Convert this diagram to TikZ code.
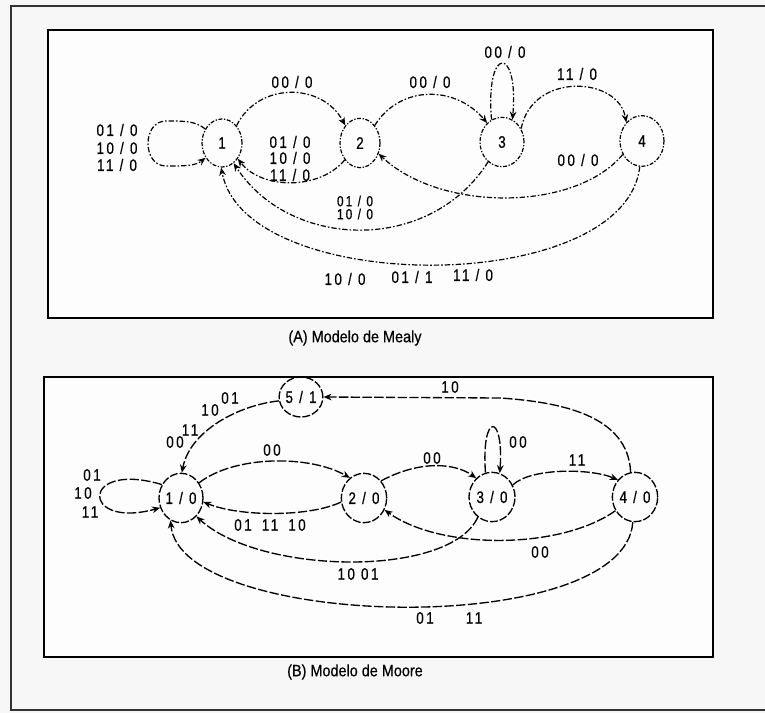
\documentclass[tikz,border=0pt]{standalone}
\usepackage{fontspec}
\setmainfont{Liberation Sans}
\newfontfamily\lblfont[FakeStretch=0.8,LetterSpace=15,FakeBold=0.6]{Liberation Sans}
\newfontfamily\capfont[FakeStretch=0.88,FakeBold=0.4]{Liberation Sans}
\usetikzlibrary{shapes.geometric,arrows.meta}
\begin{document}
\begin{tikzpicture}[x=0.75pt,y=-0.75pt,
  lab/.style={font=\lblfont\fontsize{12.5}{14}\selectfont,inner sep=0pt},
  smalllab/.style={font=\lblfont\fontsize{11}{12}\selectfont,inner sep=0pt},
  captext/.style={font=\capfont\fontsize{12.3}{14}\selectfont,inner sep=0pt},
  mstate/.style={ellipse,draw,line width=0.9pt,dash pattern=on 3pt off 1.2pt on 1pt off 1.2pt,inner sep=0pt,font=\lblfont\fontsize{12.5}{14}\selectfont},
  bstate/.style={ellipse,draw,line width=1pt,dash pattern=on 6pt off 1.5pt,inner sep=0pt,font=\lblfont\fontsize{12.5}{14}\selectfont},
  medge/.style={line width=0.9pt,dash pattern=on 4pt off 1.5pt on 1.2pt off 1.5pt,-{Stealth[length=6pt,width=5pt]}},
  bedge/.style={line width=1pt,dash pattern=on 7pt off 1.8pt,-{Stealth[length=6pt,width=5pt]}},
  frameline/.style={line width=2.2pt,black!80},
  boxline/.style={line width=1.4pt,black}
]
\useasboundingbox (0,0) rectangle (765,713);
\fill[black!3] (0,0) rectangle (765,713);

% outer frame
\draw[frameline] (765,6) -- (11,6) -- (11,710) -- (765,710);
% panel boxes
\draw[boxline,fill=white!60!black!2] (48,30) rectangle (713,318);
\draw[boxline,fill=white!60!black!2] (44,377) rectangle (713,657);

% captions
\node[captext] (capA) at (355,338) {(A) Modelo de Mealy};
\node[captext] (capB) at (355,672) {(B) Modelo de Moore};

% ---------------- Mealy ----------------
\node[mstate,minimum width=30pt,minimum height=36pt] (m1) at (222,143) {1};
\node[mstate,minimum width=30pt,minimum height=37pt] (m2) at (360,143) {2};
\node[mstate,minimum width=33pt,minimum height=37pt] (m3) at (502,142) {3};
\node[mstate,minimum width=33pt,minimum height=38pt] (m4) at (642,141) {4};

% self loop on 1
\draw[medge] (m1.140) .. controls (195,121) and (185,121) .. (166,121)
  .. controls (142,121) and (142,166) .. (166,166)
  .. controls (185,166) and (195,166) .. (m1.222);
\node[lab] (ml1a) at (117,130) {01 / 0};
\node[lab] (ml1b) at (117,148) {10 / 0};
\node[lab] (ml1c) at (117,165) {11 / 0};

% 1 -> 2
\draw[medge] (m1.50) .. controls (258,82) and (322,82) .. (m2.130);
\node[lab] (ml12) at (292,82) {00 / 0};

% 2 -> 1
\draw[medge] (m2.228) .. controls (320,190) and (262,190) .. (m1.315);
\node[lab] (ml21a) at (290,142) {01 / 0};
\node[lab] (ml21b) at (290,158) {10 / 0};
\node[lab] (ml21c) at (290,175) {11 / 0};

% 2 -> 3
\draw[medge] (m2.50) .. controls (400,85) and (455,85) .. (m3.128);
\node[lab] (ml23) at (430,82) {00 / 0};

% self loop on 3
\draw[medge] (m3.115) .. controls (485,45) and (519,45) .. (m3.65);
\node[lab] (ml33) at (505,52) {00 / 0};

% 3 -> 4
\draw[medge] (m3.35) .. controls (532,72) and (618,76) .. (m4.130);
\node[lab] (ml34) at (577,74) {11 / 0};

% 4 -> 2
\draw[medge] (m4.215) .. controls (575,212) and (440,212) .. (m2.330);
\node[lab] (ml42) at (578,160) {00 / 0};

% 3 -> 1
\draw[medge] (m3.235) .. controls (430,254) and (290,250) .. (m1.300);
\node[smalllab] (ml31a) at (355,201) {01 / 0};
\node[smalllab] (ml31b) at (355,214) {10 / 0};

% 4 -> 1
\draw[medge] (m4.265) .. controls (625,297) and (245,297) .. (m1.268);
\node[lab] (ml41a) at (345,279) {10 / 0};
\node[lab] (ml41b) at (412,277) {01 / 1};
\node[lab] (ml41c) at (473,275) {11 / 0};

% ---------------- Moore ----------------
\node[bstate,minimum width=31.5pt,minimum height=30pt] (b5) at (301,397) {5 / 1};
\node[bstate,minimum width=33pt,minimum height=37pt] (b1) at (181,498) {1 / 0};
\node[bstate,minimum width=34pt,minimum height=37pt] (b2) at (364,498) {2 / 0};
\node[bstate,minimum width=34.5pt,minimum height=37pt] (b3) at (492,497) {3 / 0};
\node[bstate,minimum width=34pt,minimum height=37pt] (b4) at (635,497) {4 / 0};

% 4 -> 5
\draw[bedge] (b4.100) .. controls (628,415) and (560,402) .. (500,398) -- (b5.east);
\node[lab] (bl45) at (450,387) {10};

% 5 -> 1
\draw[bedge] (b5.190) .. controls (240,405) and (190,430) .. (b1.88);
\node[lab] (bl51a) at (175,442) {00};
\node[lab] (bl51b) at (190,430) {11};
\node[lab] (bl51c) at (210,410) {10};
\node[lab] (bl51d) at (230,398) {01};

% self loop on 1/0
\draw[bedge] (b1.145) .. controls (80,460) and (80,530) .. (b1.205);
\node[lab] (bl11a) at (92,475) {01};
\node[lab] (bl11b) at (83,493) {10};
\node[lab] (bl11c) at (90,512) {11};

% 1 -> 2
\draw[bedge] (b1.40) .. controls (235,455) and (310,455) .. (b2.125);
\node[lab] (bl12) at (272,450) {00};

% 2 -> 1
\draw[bedge] (b2.190) .. controls (310,517) and (240,517) .. (b1.350);
\node[lab] (bl21a) at (243,525) {01};
\node[lab] (bl21b) at (270,525) {11};
\node[lab] (bl21c) at (297,525) {10};

% 2 -> 3
\draw[bedge] (b2.45) .. controls (420,460) and (455,463) .. (b3.130);
\node[lab] (bl23) at (432,458) {00};

% self loop on 3/0
\draw[bedge] (b3.105) .. controls (481,412) and (504,412) .. (b3.72);
\node[lab] (bl33) at (518,442) {00};

% 3 -> 4
\draw[bedge] (b3.30) .. controls (530,468) and (590,468) .. (b4.135);
\node[lab] (bl34) at (577,460) {11};

% 4 -> 2
\draw[bedge] (b4.215) .. controls (560,550) and (440,550) .. (b2.330);
\node[lab] (bl42) at (540,552) {00};

% 3 -> 1
\draw[bedge] (b3.235) .. controls (450,578) and (260,575) .. (b1.310);
\node[lab] (bl31) at (358,574) {10 01};

% 4 -> 1
\draw[bedge] (b4.265) .. controls (625,640) and (180,630) .. (b1.245);
\node[lab] (bl41a) at (425,618) {01};
\node[lab] (bl41b) at (474,618) {11};
\end{tikzpicture}
\end{document}
